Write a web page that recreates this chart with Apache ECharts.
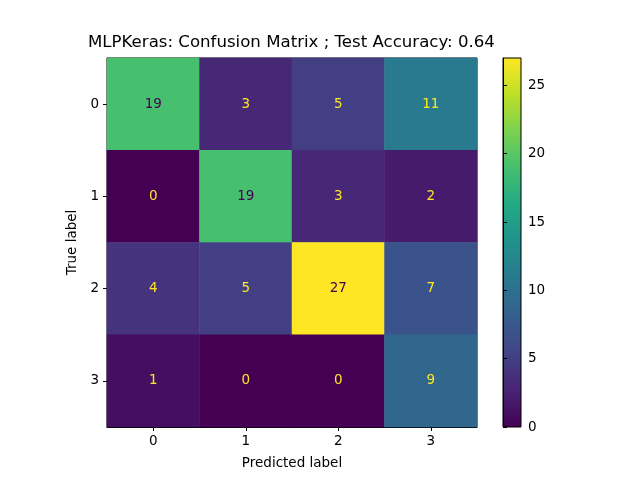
<!DOCTYPE html>
<html>
<head>
<meta charset="utf-8">
<script src="https://cdn.jsdelivr.net/npm/echarts@6/dist/echarts.min.js"></script>
<style>
  html, body { margin: 0; padding: 0; background: #fff; }
  #main { width: 640px; height: 480px; }
</style>
</head>
<body>
<div id="main"></div>
<script>
// 类别与混淆矩阵（行 = 真实标签，列 = 预测标签）
var classes = ['0', '1', '2', '3'];
var matrix = [
  [19, 3, 5, 11],
  [0, 19, 3, 2],
  [4, 5, 27, 7],
  [1, 0, 0, 9]
];
var colorbarTicks = [0, 5, 10, 15, 20, 25];
var vmin = 0, vmax = 27;

// viridis 色标
var viridis = ['#440154', '#482475', '#414487', '#355f8d', '#2a788e', '#21918c',
  '#22a884', '#44bf70', '#7ad151', '#bddf26', '#fde725'];

var font = 'DejaVu Sans';
var data = [];
matrix.forEach(function (row, i) {
  row.forEach(function (v, j) {
    data.push({
      value: [j, i, v],
      label: { color: v < (vmin + vmax) / 2 ? viridis[viridis.length - 1] : viridis[0] }
    });
  });
});

var stops = viridis.map(function (c, k) {
  return { offset: k / (viridis.length - 1), color: c };
});

var myChart = echarts.init(document.getElementById('main'));
myChart.setOption({
  animation: false,
  textStyle: { fontFamily: font },
  title: {
    text: 'MLPKeras: Confusion Matrix ; Test Accuracy: 0.64',
    left: 88, top: 34, padding: 0,
    textStyle: { fontFamily: font, fontSize: 16.6, fontWeight: 'normal', color: '#000' }
  },
  grid: [
    { left: 107, top: 58, width: 370, height: 369, show: true, borderColor: '#000', borderWidth: 1, backgroundColor: 'transparent' },
    { left: 503, top: 58, width: 18, height: 369, show: true, borderColor: '#000', borderWidth: 1, backgroundColor: 'transparent' }
  ],
  xAxis: [
    {
      type: 'category', gridIndex: 0, data: classes,
      name: 'Predicted label', nameLocation: 'middle', nameGap: 29,
      nameTextStyle: { fontFamily: font, fontSize: 13.5, color: '#000' },
      axisLine: { show: true, lineStyle: { color: '#000' } },
      axisTick: { show: true, alignWithLabel: true, length: 4, lineStyle: { color: '#000' } },
      axisLabel: { fontFamily: font, fontSize: 13.5, color: '#000', margin: 7 },
      splitLine: { show: false }
    },
    { type: 'value', gridIndex: 1, show: false, min: 0, max: 1 }
  ],
  yAxis: [
    {
      type: 'category', gridIndex: 0, data: classes, inverse: true,
      name: 'True label', nameLocation: 'middle', nameGap: 20, nameRotate: 90,
      nameTextStyle: { fontFamily: font, fontSize: 13.5, color: '#000' },
      axisLine: { show: true, lineStyle: { color: '#000' } },
      axisTick: { show: true, alignWithLabel: true, length: 4, lineStyle: { color: '#000' } },
      axisLabel: { fontFamily: font, fontSize: 13.5, color: '#000', margin: 8 },
      splitLine: { show: false }
    },
    {
      type: 'value', gridIndex: 1, position: 'right', min: vmin, max: vmax, interval: 5,
      axisLine: { show: true, lineStyle: { color: '#000' } },
      axisTick: { show: true, length: 4, lineStyle: { color: '#000' } },
      axisLabel: {
        fontFamily: font, fontSize: 13.5, color: '#000', margin: 7,
        showMaxLabel: false,
        formatter: function (v) { return colorbarTicks.indexOf(v) >= 0 ? String(v) : ''; }
      },
      splitLine: { show: false }
    }
  ],
  visualMap: {
    show: false, type: 'continuous', min: vmin, max: vmax, seriesIndex: 0,
    inRange: { color: viridis }
  },
  graphic: [{
    type: 'rect', z: -1,
    shape: { x: 503, y: 58, width: 18, height: 369 },
    style: { fill: new echarts.graphic.LinearGradient(0, 1, 0, 0, stops) }
  }],
  series: [{
    type: 'heatmap', xAxisIndex: 0, yAxisIndex: 0, data: data,
    label: { show: true, fontFamily: font, fontSize: 13.5 },
    emphasis: { disabled: true }
  }]
});
</script>
</body>
</html>
